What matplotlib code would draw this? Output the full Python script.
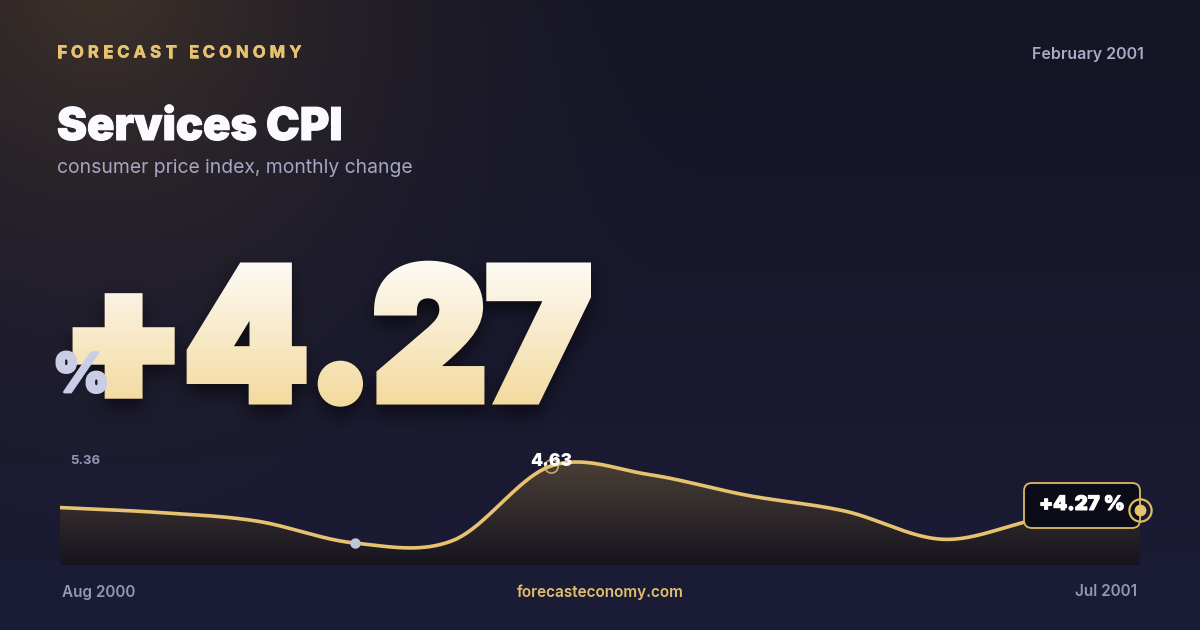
import numpy as np
import matplotlib
matplotlib.use("Agg")
import matplotlib.pyplot as plt
from matplotlib import font_manager as fm
from matplotlib import patheffects as pe
from matplotlib.backends.backend_agg import FigureCanvasAgg
from matplotlib.figure import Figure
from matplotlib.font_manager import FontProperties
from matplotlib.patches import PathPatch, FancyBboxPatch
from matplotlib.path import Path
from matplotlib.textpath import TextPath

# ---- data ----
months = ["Aug 2000", "Sep 2000", "Oct 2000", "Nov 2000", "Dec 2000", "Jan 2001",
          "Feb 2001", "Mar 2001", "Apr 2001", "May 2001", "Jun 2001", "Jul 2001"]
values = [4.29, 4.25, 4.18, 4.00, 4.02, 4.63, 4.56, 4.39, 4.26, 4.03, 4.20, 4.27]
range_labels = ["5.36", "0.85"]
headline = "+4.27"
brand = "FORECAST ECONOMY"
title = "Services CPI"
subtitle = "consumer price index, monthly change"
date_label = "February 2001"
site = "forecasteconomy.com"

GOLD = "#e8c36f"
MUTED = "#9396b8"
W, H = 1200, 630
FAM = ["Inter", "DejaVu Sans"]


def pick_font(target, fams=("Inter", "Roboto", "Lato", "Open Sans", "Noto Sans")):
    for tol in (60, 160, 1000):
        for fam in fams:
            best = None
            for f in fm.fontManager.ttflist:
                if f.name != fam or f.style != "normal":
                    continue
                w = f.weight if isinstance(f.weight, int) else fm.weight_dict.get(f.weight, 400)
                s = abs(w - target)
                if best is None or s < best[0]:
                    best = (s, f.fname)
            if best and best[0] <= tol:
                return FontProperties(fname=best[1])
    return FontProperties(family="DejaVu Sans", weight="bold")


FP_BLACK = pick_font(900)


def fp_sized(size):
    p = FP_BLACK.copy()
    p.set_size(size)
    return p


def heavy(lw, color):
    return [pe.withStroke(linewidth=lw, foreground=color)]


def catmull_rom(y, n=40):
    y = np.asarray(y, float)
    m = np.zeros_like(y)
    m[1:-1] = (y[2:] - y[:-2]) / 2
    m[0] = y[1] - y[0]
    m[-1] = y[-1] - y[-2]
    xs, ys = [], []
    for i in range(len(y) - 1):
        t = np.linspace(0, 1, n, endpoint=False)
        h00 = 2 * t**3 - 3 * t**2 + 1
        h10 = t**3 - 2 * t**2 + t
        h01 = -2 * t**3 + 3 * t**2
        h11 = t**3 - t**2
        xs.append(i + t)
        ys.append(h00 * y[i] + h10 * m[i] + h01 * y[i + 1] + h11 * m[i + 1])
    xs.append([len(y) - 1])
    ys.append([y[-1]])
    return np.concatenate(xs), np.concatenate(ys)


def box_blur(a, r):
    for axis in (0, 1):
        for _ in range(2):
            c = np.cumsum(np.pad(a, [(r + 1, r) if ax == axis else (0, 0) for ax in (0, 1)],
                                 mode="edge"), axis=axis)
            if axis == 0:
                a = (c[2 * r + 1:] - c[:-2 * r - 1]) / (2 * r + 1)
            else:
                a = (c[:, 2 * r + 1:] - c[:, :-2 * r - 1]) / (2 * r + 1)
    return a


fig = plt.figure(figsize=(12, 6.3), dpi=100)
bg = fig.add_axes([0, 0, 1, 1])
bg.set_xlim(0, W)
bg.set_ylim(H, 0)
bg.axis("off")

# background: navy with warm glow top-left
yy, xx = np.mgrid[0:H, 0:W]
t = (yy / H)[..., None]
base = np.array([21, 21, 37]) * (1 - t) + np.array([27, 28, 54]) * t
d = np.hypot(xx - 100, yy + 20)
w = (np.clip(1 - d / 650, 0, 1) ** 2)[..., None]
img = base * (1 - w) + np.array([62, 50, 42]) * w
bg.imshow(img.astype(np.uint8), extent=[0, W, H, 0], aspect="auto", zorder=0,
          interpolation="nearest")

# header with letter spacing
renderer = fig.canvas.get_renderer()
widths = []
for ch in brand:
    tt = bg.text(0, 0, ch if ch != " " else "x", fontsize=12, fontweight="bold", family=FAM)
    widths.append(tt.get_window_extent(renderer).width if ch != " " else 4)
    tt.remove()
gap = (301.5 - 57 - sum(widths)) / (len(brand) - 1)
x = 57
for ch, wd in zip(brand, widths):
    if ch != " ":
        bg.text(x, 53, ch, fontsize=12, fontweight="bold", color=GOLD, family=FAM,
                va="center", ha="left", path_effects=heavy(0.4, GOLD))
    x += wd + gap

bg.text(1144, 54, date_label, fontsize=11.5, fontweight="semibold", color="#a9abc8",
        family=FAM, ha="right", va="center")
bg.text(57, 140, title, fontproperties=fp_sized(32.5), color="#fafaff",
        ha="left", va="baseline", path_effects=heavy(0.8, "#fafaff"))
bg.text(57, 173, subtitle, fontsize=13.9, color="#a4a6c4", family=FAM,
        ha="left", va="baseline")

# big headline number: emboldened mask with vertical gradient
STROKE = 10
tp = TextPath((0, 0), headline, size=100, prop=FP_BLACK)
v = tp.vertices.copy()
bx0, by0 = v[:, 0].min(), v[:, 1].min()
bx1, by1 = v[:, 0].max(), v[:, 1].max()
L, R, T, B = 57.8, 591, 260.7, 406.7
h = STROKE / 2
v[:, 0] = L + h + (v[:, 0] - bx0) / (bx1 - bx0) * (R - L - STROKE)
v[:, 1] = B - h - (v[:, 1] - by0) / (by1 - by0) * (B - T - STROKE)
big = Path(v, tp.codes)

mf = Figure(figsize=(12, 6.3), dpi=100)
FigureCanvasAgg(mf)
mf.patch.set_facecolor("black")
ma = mf.add_axes([0, 0, 1, 1])
ma.set_xlim(0, W)
ma.set_ylim(H, 0)
ma.axis("off")
ma.add_patch(PathPatch(big, facecolor="white", edgecolor="white", lw=STROKE * 0.72,
                       joinstyle="miter"))
mf.canvas.draw()
mask = np.asarray(mf.canvas.buffer_rgba())[..., 0].astype(float) / 255

shadow = box_blur(np.roll(mask, 9, axis=0), 9)
sh_rgba = np.zeros((H, W, 4))
sh_rgba[..., 3] = np.clip(shadow * 0.55, 0, 1)
bg.imshow(sh_rgba, extent=[0, W, H, 0], aspect="auto", zorder=1, interpolation="nearest")

top_c = np.array([253, 251, 246]) / 255
bot_c = np.array([243, 217, 156]) / 255
gt = np.clip((np.arange(H) - T) / (B - T), 0, 1)[:, None, None]
col = top_c * (1 - gt) + bot_c * gt
txt_rgba = np.zeros((H, W, 4))
txt_rgba[..., :3] = np.broadcast_to(col, (H, W, 3))
txt_rgba[..., 3] = mask
bg.imshow(txt_rgba, extent=[0, W, H, 0], aspect="auto", zorder=2, interpolation="nearest")

bg.text(53, 392, "%", fontproperties=fp_sized(39), color="#c9cde6",
        ha="left", va="baseline", zorder=3, path_effects=heavy(2.0, "#c9cde6"))

# sparkline
sp = fig.add_axes([60 / W, (H - 565) / H, 1080 / W, 110 / H])
sp.set_xlim(0, len(values) - 1)
sp.set_ylim(3.82, 4.72)
sp.axis("off")
sp.patch.set_alpha(0)
cx, cy = catmull_rom(values)
poly = sp.fill_between(cx, cy, 3.82, color="none", lw=0)
fg = np.linspace(0, 1, 256)[:, None]
ftop = np.array([78, 66, 55]) / 255
fbot = np.array([22, 20, 32]) / 255
fgrad = np.repeat(ftop * (1 - fg[..., None]) + fbot * fg[..., None], 2, axis=1)
fim = sp.imshow(fgrad, extent=[0, len(values) - 1, 3.82, 4.72], aspect="auto",
                zorder=1, origin="upper")
fim.set_clip_path(poly.get_paths()[0], transform=sp.transData)
sp.plot(cx, cy, color=GOLD, lw=2.6, solid_capstyle="butt", zorder=3)

imin = int(np.argmin(values))
imax = int(np.argmax(values))
sp.plot(imin, values[imin], "o", ms=7.5, color="#c0c4dc", mec="none", zorder=4)
sp.plot(imax, values[imax], "o", ms=9.5, mfc="none", mec=GOLD, mew=1.2, alpha=0.8, zorder=4)
sp.annotate(f"{values[imax]:.2f}", (imax, values[imax]), xytext=(0, 5),
            textcoords="offset pixels", ha="center", va="center",
            fontproperties=fp_sized(12.5), color="white", zorder=5)

# range labels
for lab, ly in zip(range_labels, (461, 547)):
    bg.text(70, ly, lab, fontsize=9.5, fontweight="bold", color=MUTED,
            family=FAM, ha="left", va="center")

# end point tooltip on an overlay axes
ov = fig.add_axes([0, 0, 1, 1])
ov.set_xlim(0, W)
ov.set_ylim(H, 0)
ov.axis("off")
ov.patch.set_alpha(0)
n = len(values) - 1
px, py = sp.transData.transform((n, values[-1]))
py = H - py
box = FancyBboxPatch((px - 116, py - 27), 116, 45, boxstyle="round,pad=0,rounding_size=8",
                     facecolor="#0b0c18", edgecolor="#deb862", lw=1.3, zorder=6)
ov.add_patch(box)
ov.text(px - 58, py - 5, f"+{values[-1]:.2f} %", fontproperties=fp_sized(14.5),
        color="white", ha="center", va="center", zorder=7,
        path_effects=heavy(0.7, "white"))
ov.plot(px, py, "o", ms=8.5, color=GOLD, mec="none", zorder=8)
ov.plot(px, py, "o", ms=16, mfc="none", mec="#deb862", mew=1.6, zorder=8)

# footer
bg.text(62, 592, months[0], fontsize=11, fontweight="semibold", color=MUTED,
        family=FAM, ha="left", va="center")
bg.text(1137, 592, months[-1], fontsize=11, fontweight="semibold", color=MUTED,
        family=FAM, ha="right", va="center")
bg.text(600, 592, site, fontsize=11, fontweight="semibold", color="#e2bf6c",
        family=FAM, ha="center", va="center")

fig.savefig("out.png", dpi=100)
